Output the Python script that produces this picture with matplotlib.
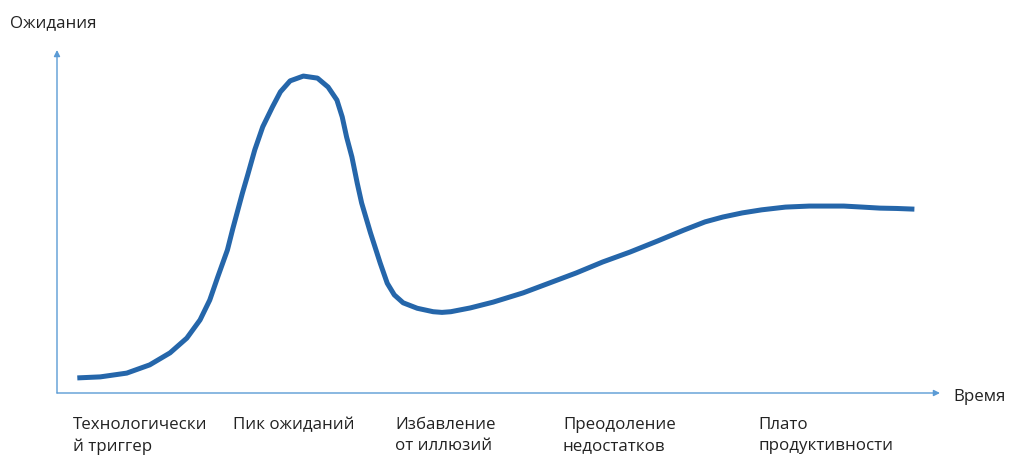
import matplotlib
matplotlib.use("Agg")
import matplotlib.pyplot as plt

plt.rcParams['font.family'] = ['Open Sans', 'DejaVu Sans']

# кривая хайпа (время / ожидания, условные единицы 0..100)
time = [2.3, 4.9, 7.9, 10.5, 12.8, 14.7, 16.2, 17.3, 18.2, 19.3, 19.9, 21.0,
        21.6, 22.4, 23.3, 24.4, 25.3, 26.4, 27.9, 29.5, 30.7, 31.7, 32.3, 32.8,
        33.4, 34.0, 34.5, 35.5, 36.6, 37.4, 38.2, 39.2, 40.8, 42.6, 43.6, 44.6,
        46.8, 49.4, 52.8, 55.8, 58.8, 61.8, 64.9, 68.0, 71.0, 73.4, 75.4, 77.6,
        79.8, 82.5, 85.2, 89.1, 91.2, 93.2, 95.1, 97.1]
expect = [4.4, 4.7, 5.8, 8.2, 11.7, 16.0, 21.3, 27.1, 33.8, 41.7, 47.8, 58.3,
          63.6, 70.9, 77.6, 83.4, 87.8, 91.0, 92.4, 91.8, 89.2, 85.4, 80.5, 74.6,
          68.8, 61.2, 55.4, 46.7, 37.9, 32.0, 28.6, 26.3, 24.7, 23.7, 23.5, 23.7,
          24.8, 26.5, 29.2, 32.1, 35.0, 38.2, 41.1, 44.3, 47.5, 49.9, 51.3, 52.5,
          53.4, 54.2, 54.5, 54.5, 54.2, 53.9, 53.8, 53.6]

phases = ['Технологически\nй триггер', 'Пик ожиданий', 'Избавление\nот иллюзий',
          'Преодоление\nнедостатков', 'Плато\nпродуктивности']
phase_x = [1.8, 19.9, 38.3, 57.3, 79.4]

W, H = 1024, 473
fig = plt.figure(figsize=(W / 100, H / 100), dpi=100)
fig.patch.set_facecolor('white')
ax = fig.add_axes([57 / W, (H - 393) / H, (940 - 57) / W, (393 - 50) / H])
ax.set_xlim(0, 100)
ax.set_ylim(0, 100)
ax.axis('off')

axis_col = '#5b9bd5'
ax.annotate('', xy=(0, 1), xytext=(0, 0), xycoords='axes fraction',
            arrowprops=dict(arrowstyle='-|>', color=axis_col, lw=1.0,
                            mutation_scale=9, shrinkA=0, shrinkB=0))
ax.annotate('', xy=(1, 0), xytext=(0, 0), xycoords='axes fraction',
            arrowprops=dict(arrowstyle='-|>', color=axis_col, lw=1.0,
                            mutation_scale=9, shrinkA=0, shrinkB=0))

ax.plot(time, expect, color='#2566aa', lw=3.6, solid_joinstyle='round',
        solid_capstyle='butt')

fig.text(10 / W, 1 - 23 / H, 'Ожидания', fontsize=12.2, color='#222222',
         va='center', ha='left')
fig.text(953 / W, 1 - 397 / H, 'Время', fontsize=12.2, color='#222222',
         va='center', ha='left')

for lab, px in zip(phases, phase_x):
    ax.text(px, -7.0, lab, fontsize=12.2, color='#222222', va='top', ha='left',
            linespacing=1.4, clip_on=False)

fig.savefig('out.png', dpi=100)
